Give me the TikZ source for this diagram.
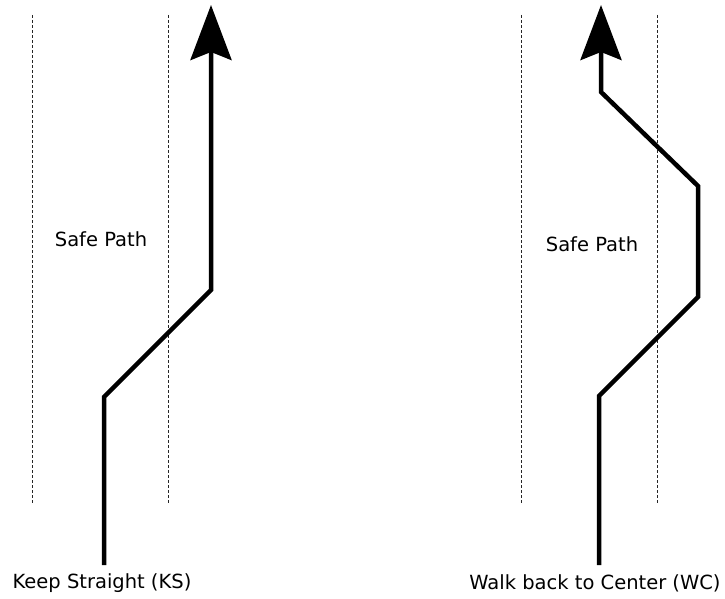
\documentclass[tikz,border=0pt]{standalone}
\usepackage{fontspec}
\setmainfont{DejaVu Sans}
\usepackage{tikz}
\usetikzlibrary{arrows.meta,positioning}

\begin{document}
\begin{tikzpicture}[
  x=1pt, y=-1pt,
  lane/.style={line width=1pt, black!85, dash pattern=on 3pt off 2pt},
  walk/.style={line width=4.5pt, black, line join=miter, -{Stealth[length=55pt, width=41pt, inset=8pt]}},
  lbl/.style={font=\fontsize{19.5}{22}\selectfont, inner sep=0pt},
]
  \useasboundingbox (0,0) rectangle (725,599);

  % lane borders
  \draw[lane] (32,15)  -- (32,503);
  \draw[lane] (168,15) -- (168,503);
  \draw[lane] (521,15) -- (521,503);
  \draw[lane] (657,15) -- (657,503);

  % keep straight
  \coordinate (ks0) at (104,565);
  \coordinate (ks1) at (104,397);
  \coordinate (ks2) at (211,290);
  \coordinate (ks3) at (211,5);
  \draw[walk] (ks0) -- (ks1) -- (ks2) -- (ks3);

  % walk back to center
  \coordinate (wc0) at (599,565);
  \coordinate (wc1) at (599,396);
  \coordinate (wc2) at (698,297);
  \coordinate (wc3) at (698,186);
  \coordinate (wc4) at (601,92);
  \coordinate (wc5) at (601,5);
  \draw[walk] (wc0) -- (wc1) -- (wc2) -- (wc3) -- (wc4) -- (wc5);

  \node[lbl] (safeL) at (101,239) {Safe Path};
  \node[lbl] (safeR) at (592,244) {Safe Path};
  \node[lbl] (ks)    at (102,583) {Keep Straight (KS)};
  \node[lbl] (wc)    at (595,583) {Walk back to Center (WC)};
\end{tikzpicture}
\end{document}
